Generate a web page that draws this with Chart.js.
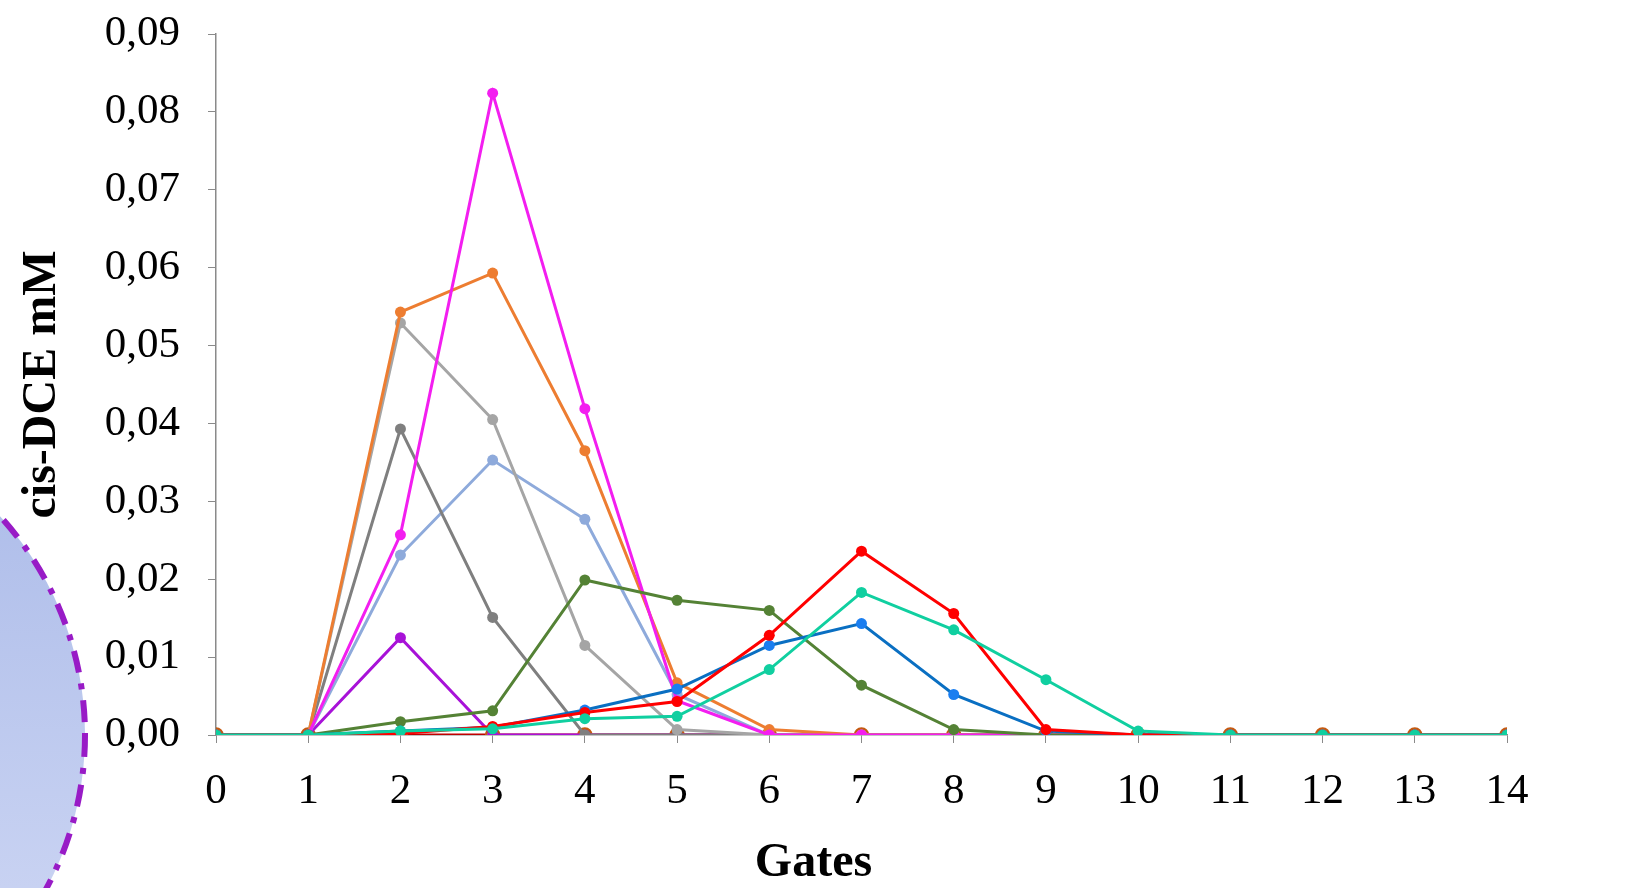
<!DOCTYPE html>
<html>
<head>
<meta charset="utf-8">
<script src="https://cdn.jsdelivr.net/npm/chart.js@4"></script>
<style>
  html, body { margin: 0; padding: 0; background: #fff; }
  #wrap { width: 1627px; height: 888px; position: relative; }
</style>
</head>
<body>
<div id="wrap"><canvas id="gatesChart"></canvas></div>
<script>
// gates along the column
var gates = [0, 1, 2, 3, 4, 5, 6, 7, 8, 9, 10, 11, 12, 13, 14];

// cis-DCE mM per series
var magentaVals = [0, 0, 0.0257, 0.0824, 0.0419, 0.0044, 0, 0, 0, 0, 0, 0, 0, 0, 0];
var orangeVals = [0, 0, 0.0543, 0.0593, 0.0365, 0.0067, 0.0007, 0, 0, 0, 0, 0, 0, 0, 0];
var lightGrayVals = [0, 0, 0.0529, 0.0405, 0.0115, 0.0007, 0, 0, 0, 0, 0, 0, 0, 0, 0];
var darkGrayVals = [0, 0, 0.0393, 0.0151, 0, 0, 0, 0, 0, 0, 0, 0, 0, 0, 0];
var lightBlueVals = [0, 0, 0.0231, 0.0353, 0.0277, 0.0052, 0, 0, 0, 0, 0, 0, 0, 0, 0];
var purpleVals = [0, 0, 0.0125, 0, 0, 0, 0, 0, 0, 0, 0, 0, 0, 0, 0];
var greenVals = [0, 0, 0.0017, 0.0031, 0.0199, 0.0173, 0.016, 0.0064, 0.0007, 0, 0, 0, 0, 0, 0];
var redVals = [0, 0, 0.0002, 0.0011, 0.0029, 0.0043, 0.0128, 0.0236, 0.0156, 0.0007, 0, 0, 0, 0, 0];
var blueVals = [0, 0, 0.0005, 0.001, 0.0032, 0.0059, 0.0115, 0.0143, 0.0052, 0.0005, 0, 0, 0, 0, 0];
var tealVals = [0, 0, 0.0005, 0.0008, 0.0021, 0.0024, 0.0084, 0.0183, 0.0135, 0.0071, 0.0005, 0, 0, 0, 0];
var brownVals = [0, 0, 0, 0, 0, 0, 0, 0, 0, 0, 0, 0, 0, 0, 0];

function pts(vals) {
  return vals.map(function (v, i) { return { x: gates[i], y: v }; });
}

function series(vals, line, point, radius) {
  return {
    data: pts(vals),
    borderColor: line,
    backgroundColor: point,
    pointBackgroundColor: point,
    pointBorderColor: point,
    pointRadius: radius,
    pointBorderWidth: 0,
    borderWidth: 3,
    tension: 0
  };
}

var ds = [
  series(tealVals, "#10cfa0", "#10cfa0", 5.5),
  series(redVals, "#ff0000", "#ff0000", 5.5),
  series(blueVals, "#0a6fc2", "#1a7ef0", 5.5),
  series(greenVals, "#548235", "#548235", 5.5),
  series(magentaVals, "#f31ef0", "#f31ef0", 5.5),
  series(orangeVals, "#ed7d31", "#ed7d31", 5.5),
  series(lightGrayVals, "#a5a5a5", "#a5a5a5", 5.5),
  series(darkGrayVals, "#7f7f7f", "#7f7f7f", 5.5),
  series(lightBlueVals, "#8eaadb", "#8eaadb", 5.5),
  series(purpleVals, "#a812d8", "#a812d8", 5.5)
];
var ring = series(brownVals, "#c00000", "#8eaadb", 6.5);
ring.pointBorderColor = "#c55a11";
ring.pointBorderWidth = 2.5;
ds.push(ring);

// the decorative circle cut by the left edge
var blob = {
  id: "blob",
  beforeDraw: function (chart) {
    var c = chart.ctx;
    c.save();
    var g = c.createLinearGradient(0, 400, 0, 888);
    g.addColorStop(0, "#a9b9e8");
    g.addColorStop(1, "#c8d2f2");
    c.beginPath();
    c.arc(-239, 735, 324, 0, Math.PI * 2);
    c.fillStyle = g;
    c.fill();
    c.setLineDash([22, 11, 6, 11]);
    c.lineWidth = 6;
    c.strokeStyle = "#981bc6";
    c.stroke();
    c.restore();
  }
};

var serif = "'Liberation Serif', 'Times New Roman', serif";

new Chart(document.getElementById("gatesChart").getContext("2d"), {
  type: "line",
  data: { datasets: ds },
  plugins: [blob],
  options: {
    responsive: true,
    maintainAspectRatio: false,
    animation: false,
    layout: { padding: { top: 34, right: 0, left: 0, bottom: 0 } },
    plugins: {
      legend: { display: false },
      tooltip: { enabled: false },
      title: {
        display: true,
        position: "bottom",
        fullSize: true,
        text: "Gates",
        color: "#000",
        font: { family: serif, size: 48, weight: "bold", lineHeight: 1 },
        padding: { top: 0, bottom: 0 }
      }
    },
    scales: {
      x: {
        type: "linear",
        min: 0,
        max: 14,
        border: { color: "#8a8a8a", width: 1.5 },
        grid: { drawOnChartArea: false, drawTicks: true, tickLength: 8, color: "#8a8a8a" },
        ticks: { stepSize: 1, color: "#000", padding: 23, font: { family: serif, size: 43 } },
        afterFit: function (s) { s.height = 105; }
      },
      y: {
        min: 0,
        max: 0.09,
        border: { color: "#8a8a8a", width: 1.5 },
        grid: { drawOnChartArea: false, drawTicks: true, tickLength: 8, color: "#8a8a8a" },
        ticks: {
          stepSize: 0.01,
          color: "#000",
          padding: 28,
          font: { family: serif, size: 43, lineHeight: 0.2 },
          callback: function (v) { return v.toFixed(2).replace(".", ","); }
        },
        title: {
          display: true,
          text: "cis-DCE mM",
          color: "#000",
          font: { family: serif, size: 48, weight: "bold", lineHeight: 1 },
          padding: { top: 19, bottom: 0 }
        },
        afterFit: function (s) { s.width = 216; s.paddingTop = 0; }
      },
      // empty strip that keeps the plot clear of the right edge
      side: {
        position: "right",
        display: true,
        grid: { display: false },
        border: { display: false },
        ticks: { display: false },
        afterFit: function (s) { s.width = 120; }
      }
    }
  }
});
</script>
</body>
</html>
